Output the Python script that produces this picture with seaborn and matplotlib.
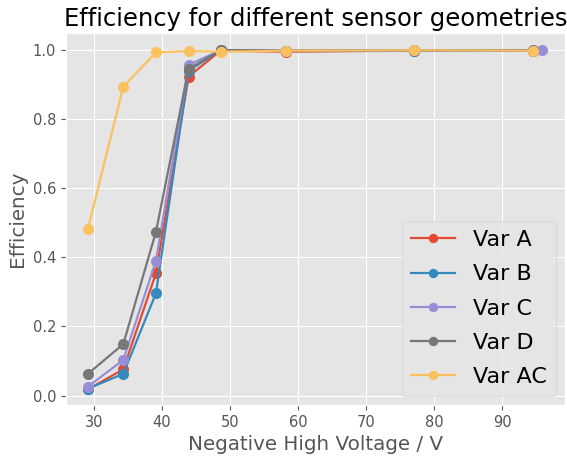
import matplotlib
matplotlib.use("Agg")
import matplotlib.pyplot as plt
import numpy as np
import pandas as pd
import seaborn as sns

plt.style.use("ggplot")

# Negative high voltage settings (V)
voltage = [29.1, 34.3, 39.1, 43.9, 48.6, 58.2, 77.1, 94.6]
voltage_c = [29.1, 34.3, 39.1, 43.9, 48.6, 58.2, 77.1, 95.9]

# Measured efficiencies per sensor geometry
eff_a = [0.018, 0.076, 0.354, 0.923, 0.998, 0.995, 0.998, 0.998]
eff_b = [0.020, 0.063, 0.296, 0.940, 0.999, 0.997, 0.998, 0.998]
eff_c = [0.026, 0.103, 0.390, 0.957, 0.999, 0.998, 0.999, 0.999]
eff_d = [0.063, 0.149, 0.474, 0.945, 1.000, 0.998, 0.999, 0.999]
eff_ac = [0.482, 0.894, 0.993, 0.997, 0.995, 0.998, 0.999, 0.998]

labels = ["Var A", "Var B", "Var C", "Var D", "Var AC"]
colors = ["#E24A33", "#348ABD", "#988ED5", "#777777", "#FBC15E"]

frames = []
for lab, xs, ys in zip(labels,
                       [voltage, voltage, voltage_c, voltage, voltage],
                       [eff_a, eff_b, eff_c, eff_d, eff_ac]):
    frames.append(pd.DataFrame({"voltage": xs, "efficiency": ys, "geometry": lab}))
df = pd.concat(frames, ignore_index=True)

fig = plt.figure(figsize=(5.67, 4.57), dpi=100)
ax = fig.add_axes([0.116, 0.114, 0.880, 0.813])

sns.lineplot(data=df, x="voltage", y="efficiency", hue="geometry",
             hue_order=labels, palette=colors, marker="o", markersize=8,
             markeredgewidth=0, linewidth=1.6, sort=False, ax=ax)

ax.set_xlim(25.84, 99.2)
ax.set_ylim(-0.027, 1.048)
ax.set_xticks([30, 40, 50, 60, 70, 80, 90])
ax.set_yticks([0.0, 0.2, 0.4, 0.6, 0.8, 1.0])
ax.tick_params(labelsize=10.5)
ax.set_xlabel("Negative High Voltage / V", fontsize=14.3)
ax.set_ylabel("Efficiency", fontsize=14.3)
ax.set_title("Efficiency for different sensor geometries", fontsize=17.5, pad=5)

ax.legend(loc="lower right", fontsize=16, framealpha=0.8, markerscale=0.85,
          labelspacing=0.64, borderaxespad=0.4)

fig.savefig("out.png", dpi=100)
